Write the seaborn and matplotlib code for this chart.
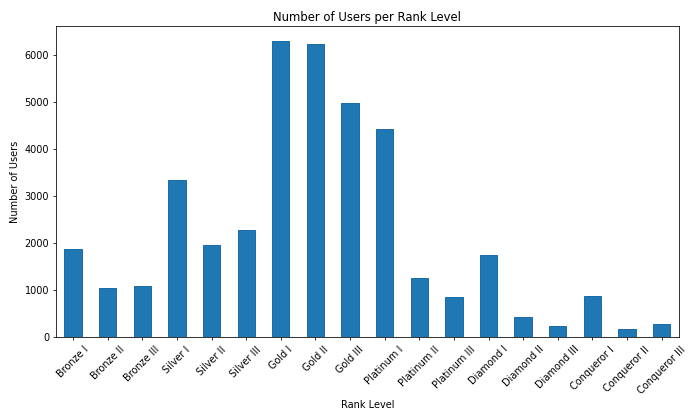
import matplotlib
matplotlib.use("Agg")
import matplotlib.pyplot as plt
import seaborn as sns
import pandas as pd

ranks = ["Bronze I", "Bronze II", "Bronze III", "Silver I", "Silver II", "Silver III",
         "Gold I", "Gold II", "Gold III", "Platinum I", "Platinum II", "Platinum III",
         "Diamond I", "Diamond II", "Diamond III", "Conqueror I", "Conqueror II", "Conqueror III"]
users = [1876, 1054, 1096, 3352, 1975, 2291,
         6303, 6240, 4996, 4427, 1265, 864,
         1750, 443, 253, 892, 190, 295]

df = pd.DataFrame({"rank": ranks, "users": users})

fig = plt.figure(figsize=(10, 6), dpi=70)
ax = sns.barplot(df, x="rank", y="users", color="#1f77b4", saturation=1, width=0.5,
                 edgecolor="#1a6aa5", linewidth=1)
ax.set_title("Number of Users per Rank Level")
ax.set_xlabel("Rank Level")
ax.set_ylabel("Number of Users")
plt.xticks(rotation=45)
plt.tight_layout()
plt.savefig("out.png", dpi=70)
